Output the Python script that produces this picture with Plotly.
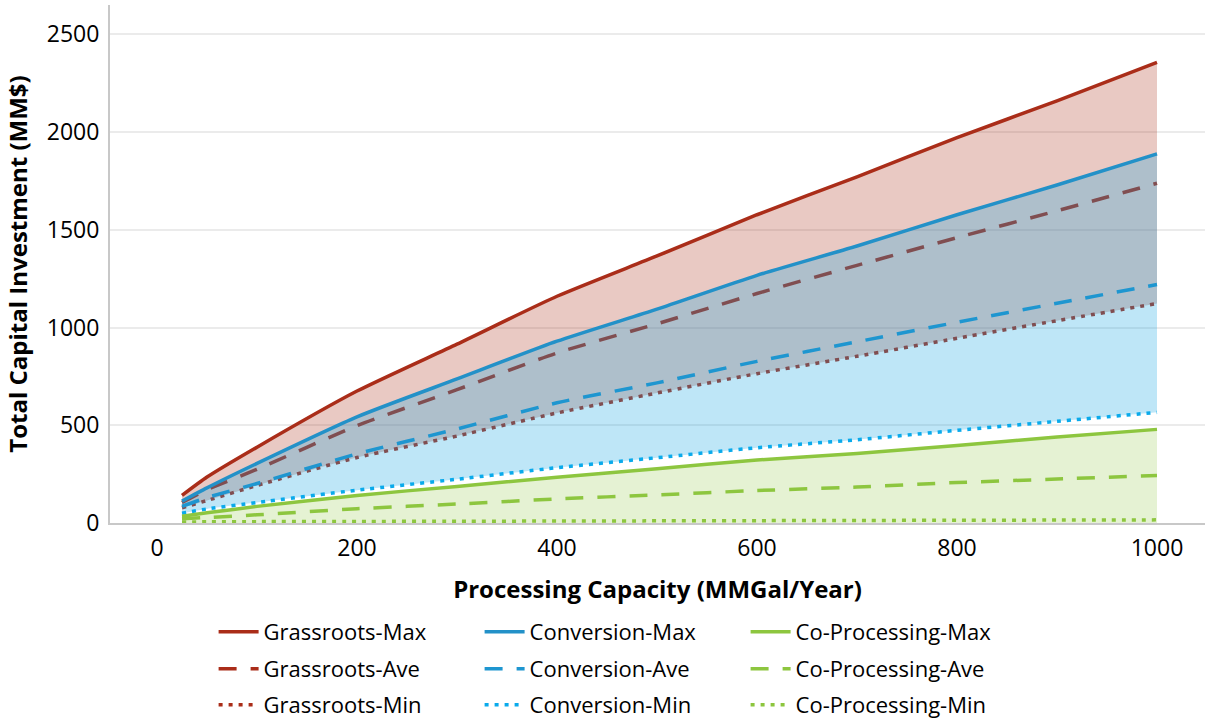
import plotly.graph_objects as go

capacity = [25, 50, 100, 200, 300, 400, 500, 600, 700, 800, 900, 1000]

grassroots_max = [141, 235, 388, 675, 915, 1160, 1366, 1577, 1771, 1971, 2160, 2357]
grassroots_ave = [105, 170, 275, 498, 682, 870, 1019, 1174, 1318, 1460, 1597, 1738]
grassroots_min = [78, 115, 192, 335, 445, 563, 665, 764, 853, 945, 1035, 1123]

conversion_max = [112, 180, 305, 543, 737, 930, 1094, 1267, 1417, 1577, 1729, 1888]
conversion_ave = [85, 130, 202, 354, 481, 615, 717, 827, 927, 1027, 1124, 1220]
conversion_min = [50, 72, 105, 168, 224, 283, 334, 385, 426, 474, 520, 566]

coproc_max = [35, 52, 85, 141, 187, 234, 278, 322, 356, 397, 440, 479]
coproc_ave = [22, 28, 42, 73, 97, 123, 144, 166, 184, 207, 225, 243]
coproc_min = [5, 6, 7, 8, 9, 10, 11, 12, 13, 14, 15, 16]

x_ticks = [0, 200, 400, 600, 800, 1000]
y_ticks = [0, 500, 1000, 1500, 2000, 2500]

RED = "rgb(170,45,25)"
RED_FILL = "rgba(170,45,25,0.26)"
BLUE_MAX = "rgb(35,145,200)"
BLUE_AVE = "rgb(30,150,208)"
BLUE_MIN = "rgb(10,170,235)"
BLUE_FILL = "rgba(23,166,226,0.28)"
GREEN = "rgb(141,198,63)"
GREEN_FILL = "rgba(141,198,63,0.23)"

DASH = "18px,14px"
DOT = "4px,6px"
LW = 3.5
SHAPE = "spline"
SMOOTH = 0.6

fig = go.Figure()

def band(lo, hi, color):
    fig.add_trace(go.Scatter(x=capacity, y=lo, mode="lines",
                             line=dict(width=0, shape=SHAPE, smoothing=SMOOTH),
                             showlegend=False, hoverinfo="skip"))
    fig.add_trace(go.Scatter(x=capacity, y=hi, mode="lines",
                             line=dict(width=0, shape=SHAPE, smoothing=SMOOTH),
                             fill="tonexty", fillcolor=color, showlegend=False, hoverinfo="skip"))

def line(y, name, color, dash, rank, legend):
    fig.add_trace(go.Scatter(x=capacity, y=y, mode="lines", name=name,
                             line=dict(color=color, width=LW, dash=dash, shape=SHAPE, smoothing=SMOOTH),
                             legendrank=rank, legend=legend))

# Grassroots (bottom layer)
band(grassroots_min, grassroots_max, RED_FILL)
line(grassroots_max, "Grassroots-Max", RED, "solid", 1, "legend")
line(grassroots_ave, "Grassroots-Ave", RED, DASH, 1, "legend2")
line(grassroots_min, "Grassroots-Min", RED, DOT, 1, "legend3")

# Conversion
band(conversion_min, conversion_max, BLUE_FILL)
line(conversion_max, "Conversion-Max", BLUE_MAX, "solid", 2, "legend")
line(conversion_ave, "Conversion-Ave", BLUE_AVE, DASH, 2, "legend2")
line(conversion_min, "Conversion-Min", BLUE_MIN, DOT, 2, "legend3")

# Co-Processing
fig.add_trace(go.Scatter(x=capacity, y=coproc_max, mode="lines",
                         line=dict(width=0, shape=SHAPE, smoothing=SMOOTH),
                         fill="tozeroy", fillcolor=GREEN_FILL, showlegend=False, hoverinfo="skip"))
line(coproc_max, "Co-Processing-Max", GREEN, "solid", 3, "legend")
line(coproc_ave, "Co-Processing-Ave", GREEN, DASH, 3, "legend2")
line(coproc_min, "Co-Processing-Min", GREEN, DOT, 3, "legend3")

FONT = "Open Sans, Noto Sans, DejaVu Sans, sans-serif"

def legend_row(top_px):
    return dict(
        orientation="h", xref="container", yref="container",
        x=213.6 / 1207, y=(721 - top_px) / 721, xanchor="left", yanchor="top",
        entrywidth=211, entrywidthmode="pixels",
        font=dict(family=FONT, size=22, color="black"),
        traceorder="normal", tracegroupgap=0, itemwidth=40,
        bgcolor="rgba(0,0,0,0)",
    )

fig.update_layout(
    width=1207, height=721,
    margin=dict(l=110, r=2, t=5, b=198),
    paper_bgcolor="white", plot_bgcolor="white",
    font=dict(family=FONT, size=23, color="black"),
    showlegend=True,
    legend=legend_row(611),
    legend2=legend_row(648),
    legend3=legend_row(684),
    xaxis=dict(
        range=[-47, 1048], tickvals=x_ticks, ticktext=[str(v) for v in x_ticks],
        showgrid=False, zeroline=False, showline=True, linecolor="rgb(200,200,200)", linewidth=2,
        ticks="", ticklabelstandoff=3, automargin=False,
        title=dict(text="<b>Processing Capacity (MMGal/Year)</b>", font=dict(size=24), standoff=20),
    ),
    yaxis=dict(
        range=[0, 2650], tickvals=y_ticks, ticktext=[str(v) for v in y_ticks],
        showgrid=True, gridcolor="rgb(235,235,235)", gridwidth=1.5,
        zeroline=False, showline=True, linecolor="rgb(200,200,200)", linewidth=2,
        ticks="", ticklabelstandoff=4, automargin=False,
        title=dict(text="<b>Total Capital Investment (MM$)</b>", font=dict(size=24), standoff=12),
    ),
)

fig.write_html("out.html", config={"displayModeBar": False},
               post_script="document.body.style.margin='0';document.body.style.padding='0';")
